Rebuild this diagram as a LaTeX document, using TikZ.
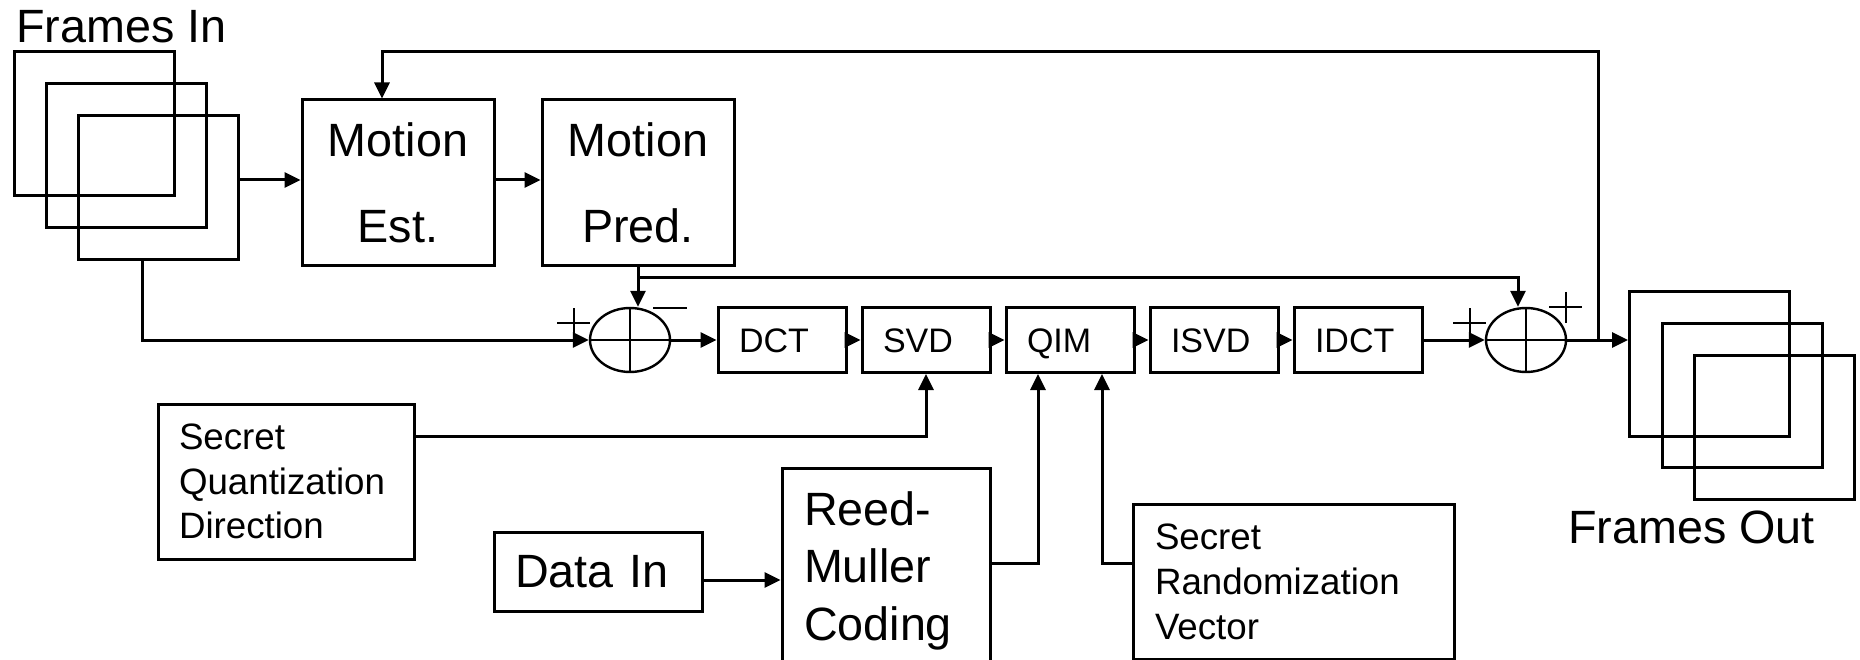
\documentclass[tikz,border=0pt]{standalone}
\usepackage{fontspec}
\setmainfont{Liberation Sans}
\usetikzlibrary{arrows.meta,shapes.geometric}
\begin{document}
\begin{tikzpicture}[x=1pt,y=-1pt,
  box/.style={draw, rectangle, inner sep=0pt, line width=3pt},
  bigbox/.style={box, align=center, font=\fontsize{46.7}{86}\selectfont},
  sbox/.style={box, minimum height=65pt, text width=86pt, inner xsep=21pt, align=left, text height=24.4pt, text depth=0pt, font=\fontsize{34}{40}\selectfont},
  frame/.style={box, minimum width=160pt, minimum height=144pt},
  sumnode/.style={draw, ellipse, minimum width=80pt, minimum height=64pt, inner sep=0pt, line width=2.4pt},
  sign/.style={line width=2.4pt},
  arr/.style={-{Triangle[length=16pt,width=15pt]}, line width=3pt},
  title/.style={anchor=base west, inner sep=0pt, font=\fontsize{46.7}{56}\selectfont}]
\useasboundingbox (0,0) rectangle (1860,660);
\fill[white] (0,0) rectangle (1860,660);

% frames in
\node[frame] (fi1) at (94,124) {};
\node[frame] (fi2) at (126,156) {};
\node[frame] (fi3) at (158,188) {};
\node[title] (tin) at (16,43) {Frames In};

% frames out
\node[frame] (fo1) at (1709.5,364) {};
\node[frame] (fo2) at (1742,395.5) {};
\node[frame] (fo3) at (1774,427.5) {};
\node[title] (tout) at (1568,543) {Frames Out};

% motion blocks
\node[bigbox, minimum width=192pt, minimum height=166pt] (ME) at (398,183) {Motion\\Est.};
\node[bigbox, minimum width=192pt, minimum height=166pt] (MP) at (638,183) {Motion\\Pred.};

% sums
\node[sumnode] (S1) at (630,340) {};
\node[sumnode] (S2) at (1526,340) {};

% chain
\node[sbox] (DCT) at (782,340) {DCT};
\node[sbox] (SVD) at (926,340) {SVD};
\node[sbox] (QIM) at (1070,340) {QIM};
\node[sbox] (ISVD) at (1214,340) {ISVD};
\node[sbox] (IDCT) at (1358,340) {IDCT};

% lower blocks
\node[box, text width=214pt, inner xsep=21pt, minimum height=155pt, align=left,
      font=\fontsize{36.7}{44.5}\selectfont] (SQD) at (286,481.5) {Secret\\Quantization\\Direction};
\node[box, text width=166pt, inner xsep=21pt, minimum height=79pt, align=left,
      font=\fontsize{46.7}{56}\selectfont] (DIN) at (598,571.5) {Data In};
\node[box, text width=164pt, inner xsep=22pt, minimum height=205pt, align=left,
      font=\fontsize{46.7}{57.5}\selectfont] (RM) at (886,570.5) {Reed-\\Muller\\Coding};
\node[box, text width=277pt, inner xsep=22pt, minimum height=155pt, align=left,
      font=\fontsize{36.7}{45}\selectfont] (SRV) at (1293.5,581.5) {Secret\\Randomization\\Vector};

% crosses in the sums and signs
\draw[sign] (S1.west) -- (S1.east) (S1.north) -- (S1.south);
\draw[sign] (S2.west) -- (S2.east) (S2.north) -- (S2.south);
\draw[sign, shift={(S1.center)}] (-73,-17) -- (-40,-17) (-56,-32) -- (-56,0) (23,-32) -- (57,-32);
\draw[sign, shift={(S2.center)}] (-73,-17) -- (-40,-17) (-56,-32) -- (-56,0) (23,-33) -- (56,-33) (40,-48) -- (40,-17);

% connectors
\coordinate (a1) at ([yshift=3pt]ME.west);
\draw[arr] (fi3.east |- a1) -- (a1);
\draw[arr] ([yshift=3pt]ME.east) -- ([yshift=3pt]MP.west);
\coordinate (fb) at (1598,340);
\coordinate (fbt) at (382,52);
\draw[arr] (fb) |- (fbt) -- (fbt |- ME.north);
\draw[arr] ([xshift=-16pt]fi3.south) |- (S1.west);
\draw[arr] (MP.south) -- (MP.south |- S1.north);
\coordinate (br) at ([yshift=-10pt]MP.south);
\coordinate (s2in) at ([xshift=-8pt]S2.north);
\draw[arr] (br) -| (s2in);
\draw[arr] (S1.east) -- (DCT.west);
\draw[arr] (DCT.east) -- (SVD.west);
\draw[arr] (SVD.east) -- (QIM.west);
\draw[arr] (QIM.east) -- (ISVD.west);
\draw[arr] (ISVD.east) -- (IDCT.west);
\draw[arr] (IDCT.east) -- (S2.west);
\draw[arr] (S2.east) -- (S2.east -| fo1.west);
\draw[arr] ([yshift=45.5pt]SQD.east) -| (SVD.south);
\coordinate (d1) at ([yshift=-8.5pt]DIN.east);
\draw[arr] (d1) -- (d1 -| RM.west);
\draw[arr] ([yshift=7.5pt]RM.east) -| ([xshift=-32pt]QIM.south);
\draw[arr] ([yshift=18.5pt]SRV.west) -| ([xshift=32pt]QIM.south);
\end{tikzpicture}
\end{document}
